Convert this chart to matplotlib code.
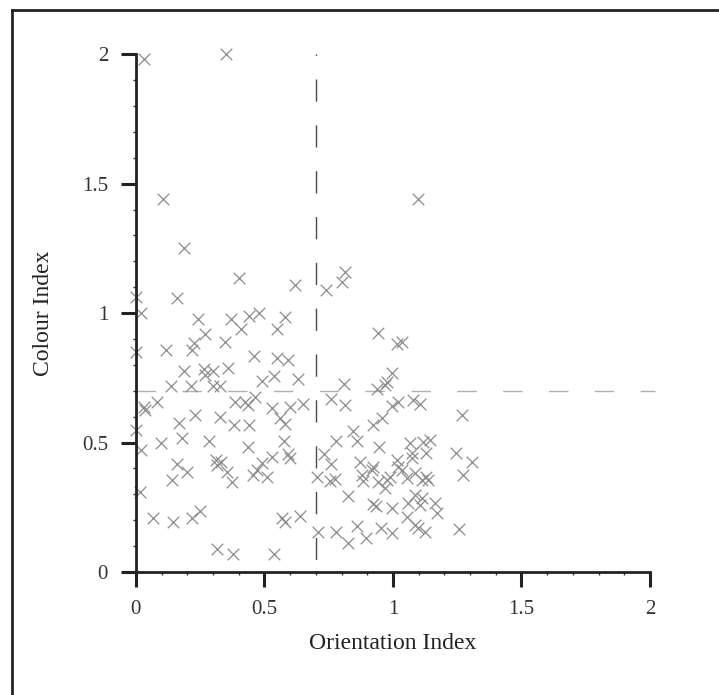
import matplotlib.pyplot as plt
from matplotlib.lines import Line2D
from matplotlib.ticker import MultipleLocator

# Data
orientation = [
    0.03, 0.35, 0.106, 1.096,
    0.188, 0.40, 0.62, 0.74, 0.80, 0.815, 0.158, 0.0, 0.02, 0.24, 0.37, 0.44,
    0.48, 0.58, 0.41, 0.55, 0.27, 0.226, 0.217, 0.117, 0.347, 0.0, 0.46, 0.55,
    0.593, 0.94,
    0.188, 0.265, 0.30, 0.27, 0.36, 0.538, 0.63, 0.49, 0.136, 0.214, 0.30, 0.327,
    0.81, 0.937,
    0.084, 0.03, 0.385, 0.424, 0.463, 0.437, 0.53, 0.60, 0.65, 0.76, 0.813,
    0.035, 0.167, 0.23, 0.327, 0.38, 0.44, 0.56, 0.58, 0.018, 0.097, 0.178,
    0.285, 0.437, 0.577, 0.158, 0.197, 0.139, 0.31, 0.33, 0.315, 0.353, 0.372,
    0.456, 0.47, 0.49, 0.53, 0.51, 0.593, 0.60, 0.016, 0.065, 0.145, 0.217,
    0.249, 0.316, 0.379, 0.538, 0.57, 0.58, 0.64, 0.703, 0.73, 0.76, 0.755,
    0.774, 0.78, 0.86, 0.846, 0.923, 0.87, 0.878, 0.885, 0.824, 0.71, 0.78,
    0.824, 0.86, 0.897, 0.923, 0.0,
    1.267, 0.945, 0.956, 0.995, 1.02, 1.08, 1.105, 1.066, 1.118, 1.144, 1.13,
    1.244, 1.306, 1.274, 0.917, 0.923, 0.943, 0.975, 0.969, 0.988, 1.02, 1.014,
    1.034, 1.053, 1.073, 1.073, 1.086, 1.112, 1.137, 1.13, 0.934, 0.995, 1.06,
    1.086, 1.112, 1.105, 1.163, 1.17, 1.053, 1.086, 1.099, 1.125, 0.953, 0.995,
    1.256,
    1.014, 1.034, 0.995, 0.975, 0.969,
]
colour = [
    1.98, 2.0, 1.44, 1.44,
    1.25, 1.136, 1.108, 1.088, 1.12, 1.16, 1.058, 1.063, 1.0, 0.978, 0.978, 0.988,
    1.0, 0.986, 0.938, 0.938, 0.918, 0.883, 0.857, 0.857, 0.888, 0.85, 0.835, 0.827,
    0.817, 0.925,
    0.776, 0.785, 0.777, 0.76, 0.789, 0.757, 0.745, 0.737, 0.72, 0.72, 0.72, 0.72,
    0.726, 0.707,
    0.657, 0.638, 0.657, 0.657, 0.677, 0.645, 0.632, 0.638, 0.649, 0.667, 0.645,
    0.625, 0.577, 0.606, 0.597, 0.568, 0.568, 0.593, 0.571, 0.471, 0.497, 0.516,
    0.507, 0.484, 0.506, 0.417, 0.387, 0.355, 0.432, 0.426, 0.413, 0.387, 0.349,
    0.375, 0.394, 0.42, 0.445, 0.366, 0.455, 0.439, 0.308, 0.207, 0.194, 0.207,
    0.237, 0.088, 0.068, 0.068, 0.207, 0.194, 0.216, 0.366, 0.455, 0.416, 0.351,
    0.358, 0.506, 0.506, 0.546, 0.568, 0.426, 0.375, 0.353, 0.295, 0.156, 0.156,
    0.113, 0.178, 0.13, 0.263, 0.55,
    0.606, 0.484, 0.593, 0.64, 0.655, 0.665, 0.648, 0.497, 0.503, 0.51, 0.458,
    0.458, 0.426, 0.375, 0.394, 0.407, 0.349, 0.355, 0.323, 0.368, 0.407, 0.432,
    0.394, 0.362, 0.439, 0.458, 0.381, 0.355, 0.355, 0.368, 0.255, 0.246, 0.265,
    0.297, 0.285, 0.259, 0.265, 0.227, 0.213, 0.181, 0.169, 0.156, 0.169, 0.15,
    0.166,
    0.879, 0.887, 0.767, 0.735, 0.722,
]
tick_values = [0, 0.5, 1, 1.5, 2]
tick_labels = ['0', '0.5', '1', '1.5', '2']
x_cut = 0.7
y_cut = 0.7

plt.rcParams['font.family'] = ['Liberation Serif', 'DejaVu Serif']

fig = plt.figure(figsize=(7.19, 6.95), dpi=100)
ax = fig.add_axes([0.189, 0.177, 0.715, 0.745])

# Dashed threshold lines (vertical one drawn top-down so the pattern starts at the top)
ax.plot([x_cut, x_cut], [2.0, 0], color='#4a4a4a', lw=1.0,
        linestyle=(15, (16, 17)), zorder=1)
ax.plot([0, 2.02], [y_cut, y_cut], color='#b0b0b0', lw=1.0,
        linestyle=(0, (14, 19)), zorder=1, clip_on=False)

ax.scatter(orientation, colour, marker='x', s=70, c='#8c8c8c', linewidths=0.9,
           zorder=2, clip_on=False)

ax.set_xlim(0, 2)
ax.set_ylim(0, 2)
for side in ['top', 'right']:
    ax.spines[side].set_visible(False)
for side in ['left', 'bottom']:
    ax.spines[side].set_linewidth(2.0)
    ax.spines[side].set_color('#222222')

ax.set_xticks(tick_values)
ax.set_xticklabels(tick_labels)
ax.set_yticks(tick_values)
ax.set_yticklabels(tick_labels)
ax.xaxis.set_minor_locator(MultipleLocator(0.1))
ax.yaxis.set_minor_locator(MultipleLocator(0.1))
ax.tick_params(which='major', direction='out', length=11, width=2.2,
               color='#222222', labelsize=15, labelcolor='#333333')
ax.tick_params(axis='x', which='major', pad=9)
ax.tick_params(axis='y', which='major', pad=9)
ax.tick_params(which='minor', direction='out', length=2.5, width=1.0, color='#333333')

ax.set_xlabel('Orientation Index', fontsize=17, color='#222222', labelpad=10)
ax.set_ylabel('Colour Index', fontsize=17, color='#222222', labelpad=20)

# Frame around the figure
fig.add_artist(Line2D([12 / 719, 12 / 719], [0, 1 - 10 / 695], transform=fig.transFigure,
                      color='#222222', lw=2.0))
fig.add_artist(Line2D([12 / 719, 1], [1 - 10 / 695, 1 - 10 / 695], transform=fig.transFigure,
                      color='#222222', lw=2.0))

fig.savefig('out.png', dpi=100)
